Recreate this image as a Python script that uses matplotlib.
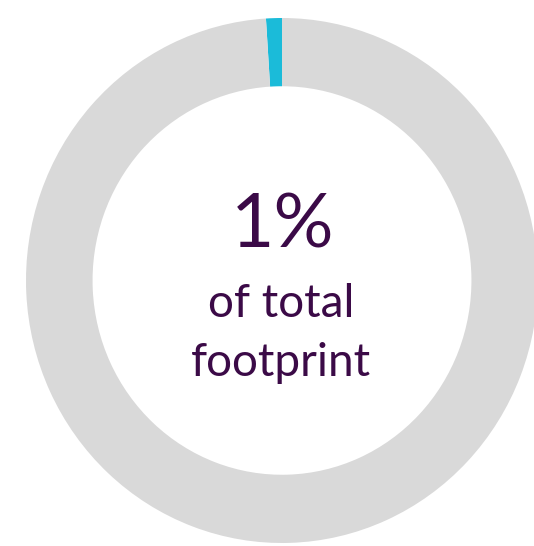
import matplotlib.pyplot as plt

# share of the total footprint
shares = [1, 99]
colours = ['#1bbbd9', '#d9d9d9']
big_label = '1%'
sub_lines = ['of total', 'footprint']
text_colour = '#3b0a47'

fig = plt.figure(figsize=(5.34, 5.46), dpi=100)

# ring: slightly taller than wide, positioned in figure pixels
W, H = 534, 546
cx, cy = 282, 280.5
rx, ry = 256, 262.5
ax = fig.add_axes([(cx - rx) / W, (H - cy - ry) / H, 2 * rx / W, 2 * ry / H])
ax.pie(shares, colors=colours, startangle=90, counterclock=True,
       radius=1, wedgeprops=dict(width=0.26, linewidth=0))
ax.set_aspect('auto')
ax.set_xlim(-1, 1)
ax.set_ylim(-1, 1)
ax.axis('off')

# centre text in pixel coordinates
tx = fig.add_axes([0, 0, 1, 1])
tx.set_xlim(0, W)
tx.set_ylim(H, 0)
tx.axis('off')
tx.patch.set_alpha(0)
tx.text(283, 247, big_label, ha='center', va='baseline', fontsize=54,
        family=['Lato', 'DejaVu Sans'], color=text_colour)
tx.text(281, 317, sub_lines[0], ha='center', va='baseline', fontsize=33,
        family=['Lato', 'DejaVu Sans'], color=text_colour)
tx.text(281, 376, sub_lines[1], ha='center', va='baseline', fontsize=33,
        family=['Lato', 'DejaVu Sans'], color=text_colour)

fig.savefig('out.png', dpi=100)
